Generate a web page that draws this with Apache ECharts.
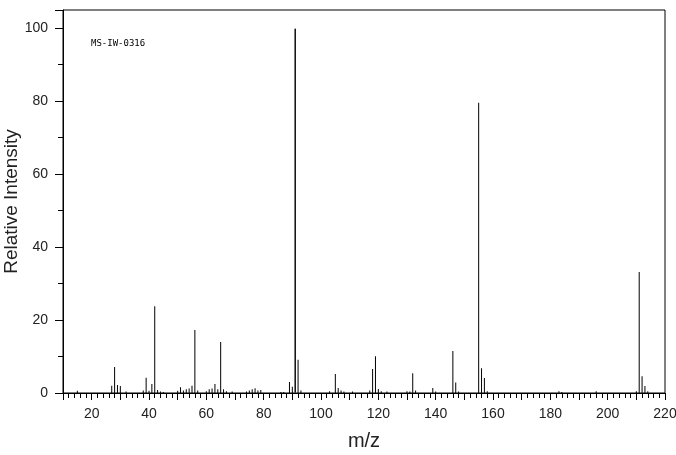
<!DOCTYPE html>
<html>
<head>
<meta charset="utf-8">
<script src="https://cdn.jsdelivr.net/npm/echarts@6/dist/echarts.min.js"></script>
<style>
html,body{margin:0;padding:0;background:#fff;}
#chart{width:676px;height:455px;}
</style>
</head>
<body>
<div id="chart"></div>
<script>
const mz = [15,27,28,29,30,32,38,39,40,41,42,43,44,45,50,51,52,53,54,55,56,57,60,61,62,63,64,65,66,67,69,74,75,76,77,78,79,86,87,89,90,91,92,93,103,105,106,107,108,111,117,118,119,120,121,123,130,131,132,133,139,140,146,147,148,155,156,157,158,183,184,196,210,211,212,213,214];
const intensity = [0.6,2.0,7.1,2.2,1.9,0.4,0.7,4.2,0.6,2.5,23.8,0.8,0.4,0.3,0.6,1.6,0.7,1.0,1.2,2.0,17.3,0.7,0.5,1.0,1.2,2.5,1.0,14.0,1.0,0.5,0.4,0.4,0.7,1.0,1.3,0.7,0.8,0.3,0.3,3.0,1.7,100,9.1,0.7,0.5,5.2,1.4,0.7,0.4,0.4,0.7,6.6,10.1,1.1,0.5,0.4,0.5,0.4,5.4,0.7,1.4,0.4,11.5,2.9,0.4,79.6,6.8,4.1,0.5,0.5,0.3,0.5,0.5,33.2,4.6,1.9,0.5];
const xLabels = [20,40,60,80,100,120,140,160,180,200,220];
const yLabels = [0,20,40,60,80,100];
const sampleId = 'MS-IW-0316';
const xTitle = 'm/z';
const yTitle = 'Relative Intensity';

const data = mz.map((m, i) => {
  const item = { value: [m, intensity[i]] };
  if (intensity[i] >= 100) item.itemStyle = { borderColor: '#000', borderWidth: 1 };
  return item;
});

const chart = echarts.init(document.getElementById('chart'), null, { renderer: 'canvas' });
const font = 'Liberation Sans';
chart.setOption({
  animation: false,
  backgroundColor: '#fff',
  title: {
    text: sampleId, left: 86, top: 34,
    textStyle: { fontFamily: 'DejaVu Sans Mono', fontSize: 9, fontWeight: 'normal', color: '#000' }
  },
  grid: { left: 63, right: 11, top: 10, bottom: 62, show: true, borderColor: '#000', borderWidth: 1, containLabel: false, outerBoundsMode: 'none' },
  xAxis: {
    type: 'value', min: 10, max: 220, interval: 10,
    name: xTitle, nameLocation: 'middle', nameGap: 38, nameMoveOverlap: false,
    nameTextStyle: { fontFamily: font, fontSize: 20, color: '#222' },
    axisLine: { show: true, lineStyle: { color: '#000', width: 1 } },
    axisTick: { show: true, length: 7, lineStyle: { color: '#000' } },
    minorTick: { show: true, splitNumber: 5, length: 5, lineStyle: { color: '#000' } },
    splitLine: { show: false },
    axisLabel: {
      margin: 14, fontFamily: font, fontSize: 14, color: '#222',
      formatter: v => xLabels.includes(v) ? String(v) : ''
    }
  },
  yAxis: {
    type: 'value', min: 0, max: 105, interval: 20,
    name: yTitle, nameLocation: 'middle', nameGap: 42, nameRotate: 90, nameMoveOverlap: false,
    nameTextStyle: { fontFamily: font, fontSize: 19, color: '#222' },
    axisLine: { show: true, lineStyle: { color: '#000', width: 1 } },
    axisTick: { show: true, length: 8, lineStyle: { color: '#000' } },
    minorTick: { show: true, splitNumber: 2, length: 5, lineStyle: { color: '#000' } },
    splitLine: { show: false },
    axisLabel: {
      margin: 15, fontFamily: font, fontSize: 14, color: '#222',
      formatter: v => yLabels.includes(v) ? String(v) : ''
    }
  },
  series: [{
    type: 'bar', data: data, barWidth: 1, silent: true,
    itemStyle: { color: '#000' }
  }]
});
</script>
</body>
</html>
